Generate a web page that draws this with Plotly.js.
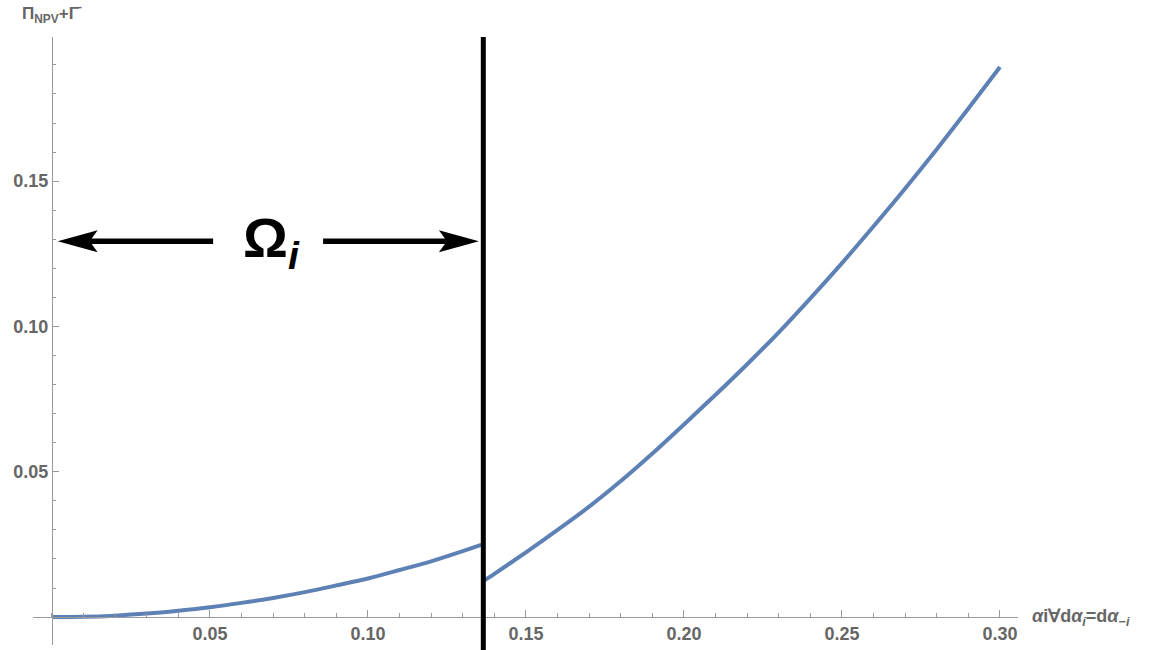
<!DOCTYPE html>
<html>
<head>
<meta charset="utf-8">
<script src="https://cdn.plot.ly/plotly-3.0.1.min.js"></script>
<style>html,body{margin:0;padding:0;background:#fff;}#chart{width:1152px;height:650px;}</style>
</head>
<body>
<div id="chart"></div>
<script>
// ---- data ----
const leftX  = [0, 0.01, 0.02, 0.03, 0.04, 0.05, 0.06, 0.07, 0.08, 0.09, 0.10, 0.11, 0.12, 0.13, 0.1365];
const leftY  = [0, 0.0001, 0.0005, 0.0012, 0.0022, 0.0034, 0.0049, 0.0066, 0.0086, 0.0109, 0.0133, 0.0162, 0.0192, 0.0227, 0.0251];
const rightX = [0.1365, 0.14, 0.15, 0.16, 0.17, 0.18, 0.19, 0.20, 0.21, 0.22, 0.23, 0.24, 0.25, 0.26, 0.27, 0.28, 0.29, 0.30];
const rightY = [0.0124, 0.0149, 0.0223, 0.0300, 0.0380, 0.0468, 0.0563, 0.0663, 0.0765, 0.0870, 0.0980, 0.1097, 0.1218, 0.1345, 0.1475, 0.1610, 0.1750, 0.1893];
const thresholdX = 0.1365;
const arrowY = 0.1293;
const arrowTails = [0.051, 0.0858];
const arrowTips  = [0.0018, 0.1351];
const omegaX = 0.0696;
const xTickVals = [0.05, 0.10, 0.15, 0.20, 0.25, 0.30];
const xTickText = ['0.05', '0.10', '0.15', '0.20', '0.25', '0.30'];
const yTickVals = [0.05, 0.10, 0.15];
const yTickText = ['0.05', '0.10', '0.15'];

// ---- layout geometry ----
const W = 1152, H = 650;
const M = {l: 33, r: 134, t: 37, b: 5};
const X_RANGE = [-0.006, 0.3057];
const Y_RANGE = [-0.0096, 0.1996];
const plotW = W - M.l - M.r, plotH = H - M.t - M.b;
const pxX = plotW / (X_RANGE[1] - X_RANGE[0]);
const pxY = plotH / (Y_RANGE[1] - Y_RANGE[0]);
const xAxisPos = (0 - Y_RANGE[0]) / (Y_RANGE[1] - Y_RANGE[0]);
const yAxisPos = (0 - X_RANGE[0]) / (X_RANGE[1] - X_RANGE[0]);

const curveColor = '#5E81B5';
const axisColor = '#9a9a9a';
const textColor = '#666666';
const fontFam = 'Liberation Sans, Arial, sans-serif';

const traces = [
  {x: leftX, y: leftY, mode: 'lines', line: {color: curveColor, width: 4, shape: 'spline', smoothing: 0.8}, hoverinfo: 'skip', showlegend: false},
  {x: rightX, y: rightY, mode: 'lines', line: {color: curveColor, width: 4, shape: 'spline', smoothing: 0.8}, hoverinfo: 'skip', showlegend: false}
];

const shapes = [
  {type: 'line', xref: 'x', yref: 'paper', x0: thresholdX, x1: thresholdX, y0: -0.03, y1: 1,
   line: {color: '#000', width: 5}, layer: 'above'}
];

// arrows (shaft + notched head)
const headL = 40 / pxX, headN = 8 / pxX, headW = 11 / pxY;
for (let i = 0; i < arrowTails.length; i++) {
  const tail = arrowTails[i], tip = arrowTips[i];
  const d = Math.sign(tip - tail);
  shapes.push({type: 'line', xref: 'x', yref: 'y', x0: tail, x1: tip - d * (headL - headN),
    y0: arrowY, y1: arrowY, line: {color: '#000', width: 5.5}});
  const bx = tip - d * headL, nx = tip - d * (headL - headN);
  shapes.push({type: 'path', xref: 'x', yref: 'y',
    path: `M${tip},${arrowY} L${bx},${arrowY + headW} L${nx},${arrowY} L${bx},${arrowY - headW} Z`,
    fillcolor: '#000', line: {width: 0}});
}

const annotations = [
  {xref: 'x', yref: 'y', x: omegaX, y: arrowY, xanchor: 'center', yanchor: 'middle',
   text: '<b>Ω<sub><i>i</i></sub></b>', showarrow: false,
   font: {family: fontFam, size: 56, color: '#000'}},
  {xref: 'paper', yref: 'paper', x: (20 - M.l) / plotW, y: (H - M.b - 15) / plotH, xanchor: 'left', yanchor: 'middle',
   text: '<b>Π<sub>NPV</sub>+Γ̄</b>', showarrow: false,
   font: {family: fontFam, size: 17, color: textColor}},
  {xref: 'paper', yref: 'paper', x: (1030 - M.l) / plotW, y: xAxisPos, xanchor: 'left', yanchor: 'middle',
   text: '<b><i>α</i>i∀d<i>α<sub>i</sub></i>=d<i>α</i><sub>−<i>i</i></sub></b>', showarrow: false,
   font: {family: fontFam, size: 18, color: textColor}}
];

const layout = {
  width: W, height: H,
  margin: M,
  paper_bgcolor: '#fff', plot_bgcolor: '#fff',
  showlegend: false,
  xaxis: {
    range: X_RANGE, anchor: 'free', position: xAxisPos,
    showgrid: false, zeroline: false, showline: true, linecolor: axisColor, linewidth: 1,
    tickmode: 'array', tickvals: xTickVals, ticktext: xTickText,
    ticks: 'inside', ticklen: 7, tickcolor: axisColor, tickwidth: 1,
    tickfont: {family: fontFam, size: 18, color: textColor, weight: 'bold'},
    minor: {tickmode: 'linear', tick0: 0, dtick: 0.01, ticks: 'inside', ticklen: 4, tickcolor: axisColor, showgrid: false}
  },
  yaxis: {
    range: Y_RANGE, anchor: 'free', position: yAxisPos,
    showgrid: false, zeroline: false, showline: true, linecolor: axisColor, linewidth: 1,
    tickmode: 'array', tickvals: yTickVals, ticktext: yTickText,
    ticks: 'inside', ticklen: 6, tickcolor: axisColor, tickwidth: 1,
    tickfont: {family: fontFam, size: 18, color: textColor, weight: 'bold'},
    minor: {tickmode: 'linear', tick0: 0, dtick: 0.01, ticks: 'inside', ticklen: 3, tickcolor: axisColor, showgrid: false}
  },
  shapes: shapes,
  annotations: annotations
};

Plotly.newPlot('chart', traces, layout, {displayModeBar: false, staticPlot: true});
</script>
</body>
</html>
